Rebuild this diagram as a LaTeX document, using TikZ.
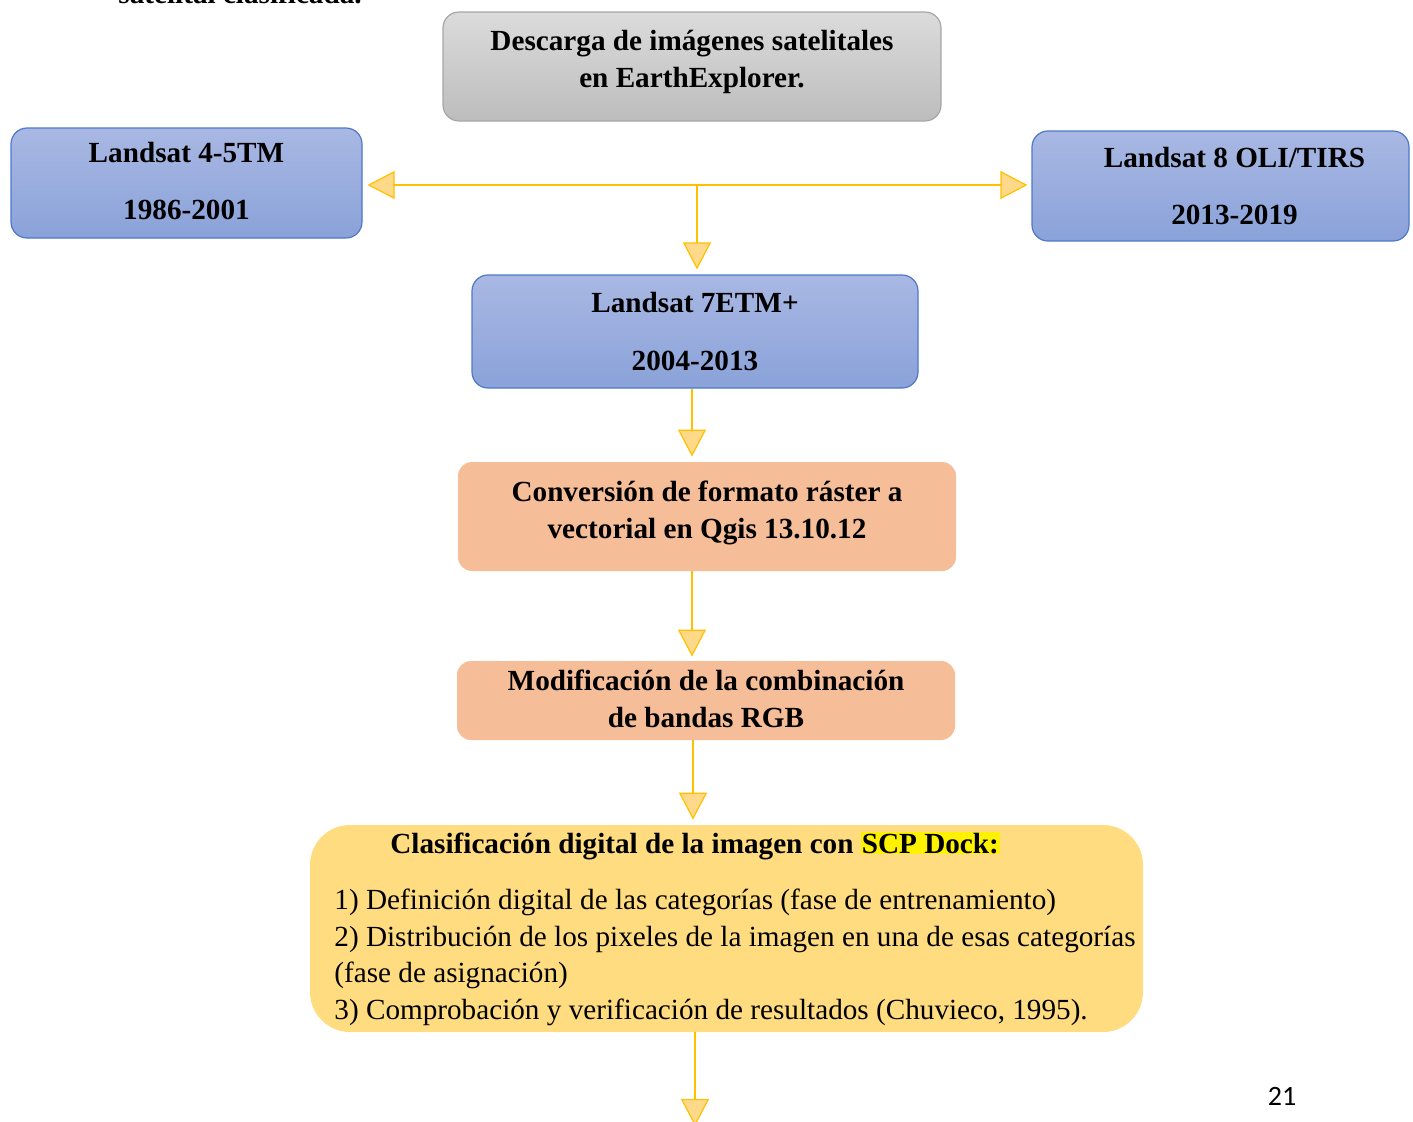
\documentclass[tikz,border=0pt]{standalone}
\usepackage{fontspec}
\setmainfont{Liberation Serif}
\newfontfamily\pagefont{Carlito}
\usetikzlibrary{arrows.meta,positioning}

\definecolor{flechaline}{HTML}{FFC000}
\definecolor{flechafill}{HTML}{FFD98A}
\definecolor{azularriba}{HTML}{A9B8E3}
\definecolor{azulabajo}{HTML}{8AA2D9}
\definecolor{azulborde}{HTML}{4E78C8}
\definecolor{durazno}{HTML}{F5BD98}
\definecolor{oro}{HTML}{FFDC80}

\tikzset{
  caja/.style={rounded corners=8pt, align=center, inner sep=0pt,
    font=\fontsize{14.6}{18.5}\selectfont\bfseries},
  satelite/.style={caja, draw=azulborde, line width=0.6pt,
    top color=azularriba, bottom color=azulabajo},
  proceso/.style={caja, fill=durazno, rounded corners=7pt},
  flecha/.style={draw=flechaline, line width=1pt,
    -{Triangle[length=13.5pt,width=14pt,fill=flechafill,line width=0.6pt]}},
}

\begin{document}
\begin{tikzpicture}[x=0.5pt,y=-0.5pt]
\useasboundingbox (0,0) rectangle (1413,1121);

% texto cortado de la pagina
\node[anchor=base west,inner sep=0pt,font=\fontsize{14.6}{18}\selectfont\bfseries] (arriba) at (118,3) {satelital clasificada.};

\node[caja, draw=gray!70, line width=0.6pt, top color=black!14, bottom color=black!26,
  minimum width=249pt, minimum height=54.5pt, text depth=8pt] (descarga) at (692,66.5)
  {Descarga de imágenes satelitales\\en EarthExplorer.};

\node[satelite, minimum width=175.5pt, minimum height=55pt, text depth=2pt] (l45) at (186.5,183)
  {Landsat 4-5TM\\[10pt]1986-2001};
\node[satelite, minimum width=188.5pt, minimum height=55pt] (l8) at (1220.5,186)
  {\hspace*{14pt}Landsat 8 OLI/TIRS\\[10pt]\hspace*{14pt}2013-2019};
\node[satelite, minimum width=223pt, minimum height=56.5pt] (l7) at (695,331.5)
  {Landsat 7ETM+\\[10pt]2004-2013};

\node[proceso, minimum width=249pt, minimum height=54.5pt, text depth=7pt] (conv) at (707,516.5)
  {Conversión de formato ráster a\\vectorial en Qgis 13.10.12};
\node[proceso, minimum width=249pt, minimum height=39.5pt, text depth=2pt] (modif) at (706,700.5)
  {Modificación de la combinación\\de bandas RGB};

\node[fill=oro, rounded corners=20pt, minimum width=416.5pt, minimum height=103.5pt] (clas) at (726.5,928.5) {};
\node[anchor=base west, inner sep=0pt, font=\fontsize{14.6}{18}\selectfont\bfseries] (clastit) at (390,853)
  {Clasificación digital de la imagen con {\setlength{\fboxsep}{0.5pt}\colorbox{yellow}{SCP Dock:}}};
\node[anchor=base west, inner sep=0pt, align=left, font=\fontsize{14.6}{18.2}\selectfont] (claspasos) at (334,1019)
  {1) Definición digital de las categorías (fase de entrenamiento)\\
   2) Distribución de los pixeles de la imagen en una de esas categorías\\
   (fase de asignación)\\
   3) Comprobación y verificación de resultados (Chuvieco, 1995).};

\node[font=\pagefont\fontsize{14}{16}\selectfont] (pagina) at (1282,1096) {21};

% flechas
\coordinate (tee) at (697,185);
\coordinate (salida) at (695,1126);
\draw[flecha, shorten >=2.5pt] (tee) -- (tee -| l45.east);
\draw[flecha, shorten >=2pt] (tee) -- (tee -| l8.west);
\draw[flecha, shorten >=2.5pt] (tee) -- (tee |- l7.north);
\draw[flecha, shorten >=2.5pt] (l7.south -| 692,0) -- (conv.north -| 692,0);
\draw[flecha, shorten >=2pt] (conv.south -| 692,0) -- (modif.north -| 692,0);
\draw[flecha, shorten >=2.5pt] (modif.south -| 693,0) -- (clas.north -| 693,0);
\draw[flecha] (clas.south -| salida) -- (salida);
\end{tikzpicture}
\end{document}
